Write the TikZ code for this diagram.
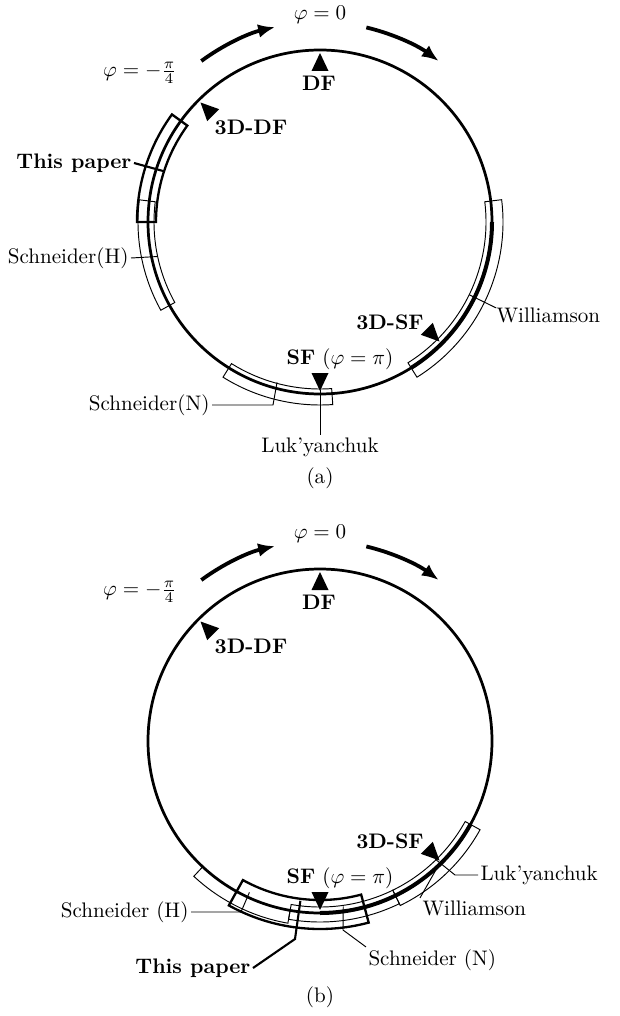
\documentclass[tikz,border=0pt]{standalone}
\usetikzlibrary{arrows.meta,calc}
\tikzset{
  circ/.style={line width=1.3pt},
  hilite/.style={line width=1.9pt},
  thinband/.style={line width=0.45pt},
  thickband/.style={line width=1.1pt},
  leader/.style={line width=0.45pt},
  tleader/.style={line width=1pt},
  flow/.style={line width=1.8pt,-{Latex[length=8pt,width=6.5pt]}},
  lbl/.style={inner sep=1pt},
}
% #1 style, #2 centre, #3 phi1, #4 phi2, #5 r1, #6 r2  (phi clockwise from top)
\newcommand{\bandsector}[6]{%
  \draw[#1] ($(#2)+({#3-90}:#5)$) arc[start angle={#3-90},end angle={#4-90},radius=#5]
    -- ($(#2)+({#4-90}:#6)$) arc[start angle={#4-90},end angle={#3-90},radius=#6] -- cycle;}
% marker triangle: #1 centre, #2 phi
\newcommand{\marktri}[2]{%
  \fill ($(#1)+({#2-90}:169)$) -- ($(#1)+({#2-90}:151)+({#2}:8.5)$) -- ($(#1)+({#2-90}:151)+({#2+180}:8.5)$) -- cycle;}
\begin{document}
\begin{tikzpicture}[x=0.475pt,y=-0.475pt]
\useasboundingbox (0,0) rectangle (619,1016);
% ================= panel (a) =================
\coordinate (Ca) at (320,222);
\draw[circ] (Ca) circle[radius=172];
\draw[hilite] ($(Ca)+(0:172)$) arc[start angle=0,end angle=58,radius=172];
\draw[flow] ($(Ca)+(-126.4:200)$) arc[start angle=-126.4,end angle=-103,radius=200];
\draw[flow] ($(Ca)+(-76.6:200)$) arc[start angle=-76.6,end angle=-53.6,radius=200];
\node[lbl] (a-phi0) at (320,15) {$\varphi=0$};
\node[lbl] (a-phim) at (140,73) {$\varphi=-\frac{\pi}{4}$};
% bands
\bandsector{thinband}{Ca}{-119}{-83}{166}{182}
\bandsector{thickband}{Ca}{-90}{-54}{164}{183}
\bandsector{thinband}{Ca}{83}{148}{166}{183}
\bandsector{thinband}{Ca}{176}{212}{167}{183}
% markers
\marktri{Ca}{0}
\marktri{Ca}{-45}
\marktri{Ca}{180}
\marktri{Ca}{135}
\node[lbl,font=\bfseries] (a-df) at (319,83) {DF};
\node[lbl,font=\bfseries] (a-3ddf) at (251,127) {3D-DF};
\node[lbl] (a-sf) at (340,359) {\textbf{SF} ($\varphi=\pi$)};
\node[lbl,font=\bfseries] (a-3dsf) at (390,322) {3D-SF};
% labels and leaders
\node[lbl,font=\bfseries,anchor=east] (a-tp) at (134,163) {This paper};
\coordinate (a-tp-p) at ($(Ca)+(-162:165)$);
\draw[tleader] (a-tp.east) -- (a-tp-p);
\node[lbl,anchor=east] (a-sh) at (131,258) {Schneider(H)};
\coordinate (a-sh-p) at ($(Ca)+(-192:166)$);
\draw[leader] (a-sh.east) -- (a-sh-p);
\node[lbl,anchor=west] (a-wi) at (494,315) {Williamson};
\coordinate (a-wi-p) at ($(Ca)+(26:166)$);
\coordinate (a-wi-q) at ($(Ca)+(26:196)$);
\draw[leader] (a-wi-p) -- (a-wi-q);
\node[lbl,anchor=east] (a-sn) at (212,405) {Schneider(N)};
\coordinate (a-sn-p) at ($(Ca)+(105:166)$);
\coordinate (a-sn-q) at (273,405);
\draw[leader] (a-sn.east) -- (a-sn-q) -- (a-sn-p);
\node[lbl] (a-lu) at (320,447) {Luk'yanchuk};
\coordinate (a-lu-p) at ($(Ca)+(90:168)$);
\draw[leader] (a-lu-p) -- (a-lu.north);
\node (a-cap) at (320,478) {(a)};
% ================= panel (b) =================
\coordinate (Cb) at (320,741);
\draw[circ] (Cb) circle[radius=172];
\draw[hilite] ($(Cb)+(29:172)$) arc[start angle=29,end angle=90,radius=172];
\draw[flow] ($(Cb)+(-126.4:200)$) arc[start angle=-126.4,end angle=-103,radius=200];
\draw[flow] ($(Cb)+(-76.6:200)$) arc[start angle=-76.6,end angle=-53.6,radius=200];
\node[lbl] (b-phi0) at (320,534) {$\varphi=0$};
\node[lbl] (b-phim) at (140,592) {$\varphi=-\frac{\pi}{4}$};
% bands
\bandsector{thinband}{Cb}{190}{223}{172}{185}
\bandsector{thinband}{Cb}{154}{190}{166}{181}
\bandsector{thinband}{Cb}{119}{154}{166}{183}
\bandsector{thickband}{Cb}{165}{209}{159}{188}
% markers
\marktri{Cb}{0}
\marktri{Cb}{-45}
\marktri{Cb}{180}
\marktri{Cb}{135}
\node[lbl,font=\bfseries] (b-df) at (319,602) {DF};
\node[lbl,font=\bfseries] (b-3ddf) at (251,646) {3D-DF};
\node[lbl] (b-sf) at (340,878) {\textbf{SF} ($\varphi=\pi$)};
\node[lbl,font=\bfseries] (b-3dsf) at (390,841) {3D-SF};
% labels and leaders
\node[lbl,anchor=east] (b-sh) at (191,912) {Schneider (H)};
\coordinate (b-sh-p) at ($(Cb)+(115:167)$);
\coordinate (b-sh-q) at (241,912);
\draw[leader] (b-sh.east) -- (b-sh-q) -- (b-sh-p);
\node[lbl,font=\bfseries,anchor=east] (b-tp) at (253,968) {This paper};
\coordinate (b-tp-q) at (295,939);
\coordinate (b-tp-p) at ($(Cb)+(97:161)$);
\draw[tleader] (b-tp.east) -- (b-tp-q) -- (b-tp-p);
\node[lbl,anchor=west] (b-sn) at (366,960) {Schneider (N)};
\coordinate (b-sn-q) at (343,930);
\coordinate (b-sn-p) at ($(Cb)+(82:167)$);
\draw[leader] (b-sn.north west) -- (b-sn-q) -- (b-sn-p);
\node[lbl,anchor=west] (b-wi) at (420,908) {Williamson};
\coordinate (b-wi-p) at ($(Cb)+(45.5:171)$);
\draw[leader] (b-wi-p) -- (b-wi.north west);
\node[lbl,anchor=west] (b-lu) at (478,875) {Luk'yanchuk};
\coordinate (b-lu-q) at (455,875);
\coordinate (b-lu-p) at ($(Cb)+(45.7:165)$);
\draw[leader] (b-lu.west) -- (b-lu-q) -- (b-lu-p);
\node (b-cap) at (320,997) {(b)};
\end{tikzpicture}
\end{document}
